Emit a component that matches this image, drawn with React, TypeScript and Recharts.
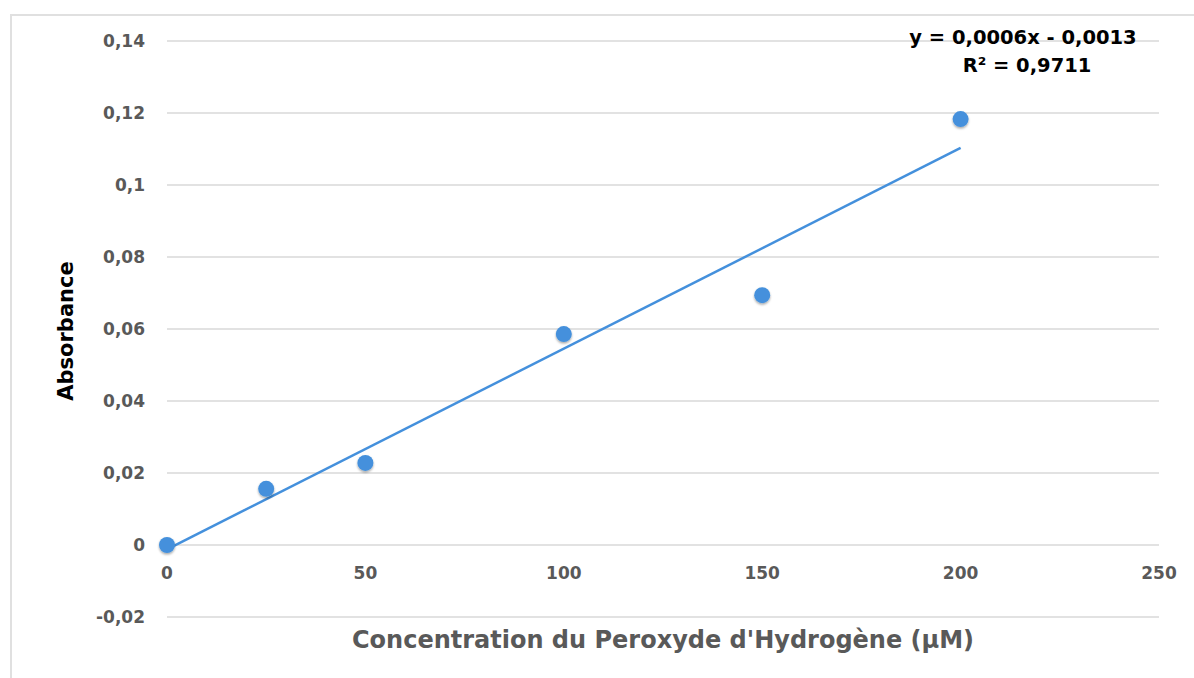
import React from 'react';
import {
  ComposedChart,
  Scatter,
  Line,
  XAxis,
  YAxis,
  CartesianGrid,
} from 'recharts';

// measured points (concentration in µM, absorbance)
const concentrations = [0, 25, 50, 100, 150, 200];
const absorbances = [0, 0.0156, 0.0228, 0.0586, 0.0694, 0.1183];

// linear trendline ends as drawn in the picture
const trendX = [0, 200];
const trendY = [-0.0012, 0.1103];

const xTicks = [0, 50, 100, 150, 200, 250];
const yTicks = [-0.02, 0, 0.02, 0.04, 0.06, 0.08, 0.1, 0.12, 0.14];

const equationText = 'y = 0,0006x - 0,0013';
const r2Text = 'R² = 0,9711';

const points = concentrations.map((x, i) => ({ x, y: absorbances[i] }));
const trend = trendX.map((x, i) => ({ x, y: trendY[i] }));

const BLUE = '#4490dc';
const FONT = '"DejaVu Sans", sans-serif';

const fmtY = (v: number) => String(Math.round(v * 100) / 100).replace('.', ',');

const XTick = (props: any) => {
  const { x, y, payload } = props;
  return (
    <text
      x={x}
      y={y - 44}
      textAnchor="middle"
      dominantBaseline="central"
      fill="#595959"
      fontFamily={FONT}
      fontWeight="bold"
      fontSize={17}
    >
      {payload.value}
    </text>
  );
};

const Dot = (props: any) => {
  const { cx, cy } = props;
  return <circle cx={cx} cy={cy} r={8} fill={BLUE} filter="url(#dotShadow)" />;
};

export default function App() {
  return (
    <div style={{ position: 'absolute', left: 0, top: 0, width: 1194, height: 678, background: '#fff', overflow: 'hidden' }}>
      <div
        style={{
          position: 'absolute',
          left: 10,
          top: 14,
          width: 1200,
          height: 700,
          borderTop: '2px solid #e0e0e0',
          borderLeft: '2px solid #e0e0e0',
        }}
      />
      <div style={{ position: 'absolute', left: 0, top: 0 }}>
        <ComposedChart width={1194} height={678} margin={{ top: 41, right: 35, bottom: 31, left: 0 }}>
          <defs>
            <filter id="dotShadow" x="-50%" y="-50%" width="200%" height="200%">
              <feDropShadow dx="0" dy="1.5" stdDeviation="1.2" floodColor="#000" floodOpacity="0.35" />
            </filter>
          </defs>
          <CartesianGrid vertical={false} stroke="#d9d9d9" strokeWidth={1.5} />
          <XAxis
            type="number"
            dataKey="x"
            domain={[0, 250]}
            ticks={xTicks}
            height={30}
            axisLine={false}
            tickLine={false}
            tickSize={0}
            tickMargin={0}
            tick={<XTick />}
            interval={0}
          />
          <YAxis
            type="number"
            dataKey="y"
            domain={[-0.02, 0.14]}
            ticks={yTicks}
            width={167}
            axisLine={false}
            tickLine={false}
            tickSize={0}
            tickMargin={22}
            tickFormatter={fmtY}
            tick={{ fill: '#595959', fontFamily: FONT, fontWeight: 'bold', fontSize: 17 }}
            interval={0}
          />
          <Scatter data={points} dataKey="y" fill={BLUE} shape={<Dot />} isAnimationActive={false} />
          <Line
            data={trend}
            dataKey="y"
            type="linear"
            stroke={BLUE}
            strokeWidth={2.5}
            dot={false}
            activeDot={false}
            isAnimationActive={false}
            legendType="none"
          />
        </ComposedChart>
      </div>
      <div
        style={{
          position: 'absolute',
          left: 66,
          top: 331,
          transform: 'translate(-50%, -50%) rotate(-90deg)',
          fontFamily: FONT,
          fontWeight: 'bold',
          fontSize: 21,
          color: '#000',
          whiteSpace: 'nowrap',
        }}
      >
        Absorbance
      </div>
      <div
        style={{
          position: 'absolute',
          left: 663,
          top: 640,
          transform: 'translate(-50%, -50%)',
          fontFamily: FONT,
          fontWeight: 'bold',
          fontSize: 24,
          color: '#595959',
          whiteSpace: 'nowrap',
        }}
      >
        Concentration du Peroxyde d'Hydrogène (µM)
      </div>
      <div
        style={{
          position: 'absolute',
          left: 1023,
          top: 37,
          transform: 'translate(-50%, -50%)',
          fontFamily: FONT,
          fontWeight: 'bold',
          fontSize: 19.5,
          color: '#000',
          whiteSpace: 'nowrap',
        }}
      >
        {equationText}
      </div>
      <div
        style={{
          position: 'absolute',
          left: 1027,
          top: 65,
          transform: 'translate(-50%, -50%)',
          fontFamily: FONT,
          fontWeight: 'bold',
          fontSize: 19.5,
          color: '#000',
          whiteSpace: 'nowrap',
        }}
      >
        {r2Text}
      </div>
    </div>
  );
}
